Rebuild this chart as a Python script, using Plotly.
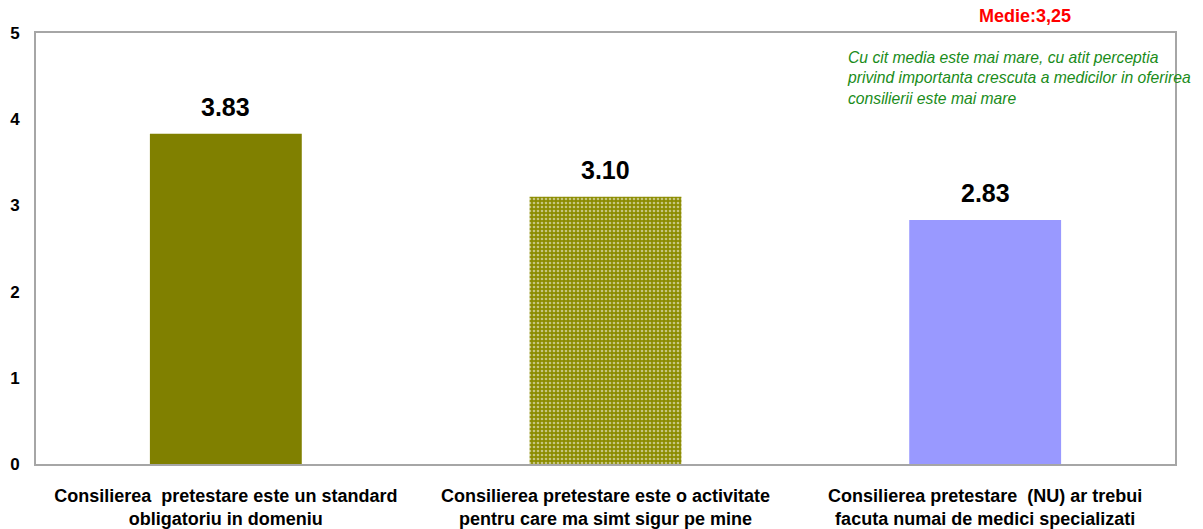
import plotly.graph_objects as go

categories = [
    "Consilierea  pretestare este un standard<br>obligatoriu in domeniu",
    "Consilierea pretestare este o activitate<br>pentru care ma simt sigur pe mine",
    "Consilierea pretestare  (NU) ar trebui<br>facuta numai de medici specializati",
]
values = [3.83, 3.10, 2.83]
value_labels = ["3.83", "3.10", "2.83"]
mean_label = "Medie:3,25"
note = ("Cu cit media este mai mare, cu atit perceptia<br>"
        "privind importanta crescuta a medicilor in oferirea<br>"
        "consilierii este mai mare")

bar_colors = ["#808000", "#8c8c00", "#9999ff"]

fig = go.Figure()
fig.add_trace(go.Bar(
    x=categories,
    y=values,
    width=0.4,
    marker=dict(
        color=bar_colors,
        line=dict(width=0),
        pattern=dict(
            shape=["", ".", ""],
            fgcolor="#f0f0c0",
            bgcolor=bar_colors,
            size=4,
            solidity=0.35,
        ),
    ),
))

# value labels above each bar
for cat, val, lab in zip(categories, values, value_labels):
    fig.add_annotation(
        x=cat, y=val, text=lab, showarrow=False,
        yanchor="bottom", yshift=11,
        font=dict(family="Arial", size=25, color="black", weight="bold"),
    )

fig.add_annotation(
    text=mean_label, xref="paper", yref="paper", x=0.868, y=1.0, yshift=17,
    showarrow=False, xanchor="center", yanchor="middle",
    font=dict(family="Arial", size=18, color="#ff0000", weight="bold"),
)
fig.add_annotation(
    text=note, xref="paper", yref="paper", x=0.71, y=0.968,
    showarrow=False, xanchor="left", yanchor="top", align="left",
    font=dict(family="Arial", size=15.7, color="#1a8c1a", style="italic"),
)

fig.update_layout(
    width=1203, height=529,
    margin=dict(l=36, r=28, t=33, b=65),
    paper_bgcolor="white", plot_bgcolor="white",
    showlegend=False,
    xaxis=dict(
        automargin=False,
        showline=True, linecolor="#a6a6a6", linewidth=2, mirror=True,
        showgrid=False, ticks="", ticklabelstandoff=14,
        tickfont=dict(family="Arial", size=18, color="black", weight="bold"),
    ),
    yaxis=dict(
        automargin=False,
        range=[0, 5], dtick=1, showline=True, linecolor="#a6a6a6", linewidth=2,
        mirror=True, showgrid=False, zeroline=False, ticks="", ticklabelstandoff=11,
        tickfont=dict(family="Arial", size=17, color="black", weight="bold"),
    ),
)

fig.write_html("out.html")
